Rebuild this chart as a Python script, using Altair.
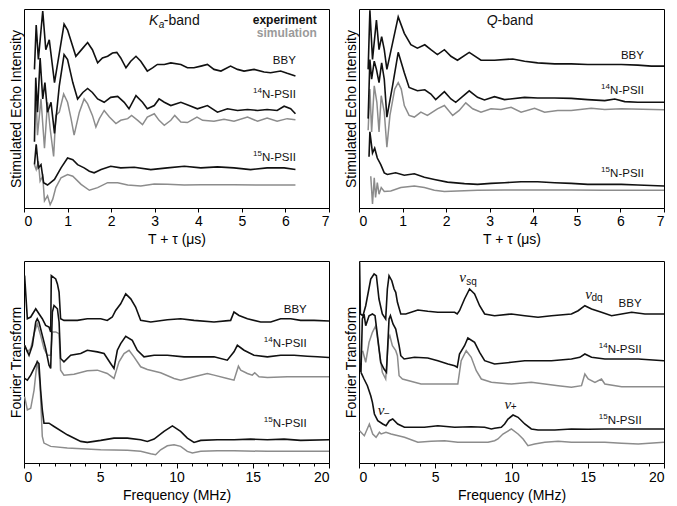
import altair as alt
import pandas as pd

FONT = "Liberation Sans"
BLACK = "#111111"
GRAY = "#8c8c8c"

# ---------------- Ka-band time domain (T + tau, us) ----------------
ka_bby_t = [0.24,0.28,0.33,0.43,0.50,0.58,0.70,0.92,1.00,1.19,1.35,1.46,1.57,1.69,1.80,1.92,2.03,2.13,2.22,2.34,2.45,2.57,2.68,2.83,2.95,3.06,3.22,3.37,3.60,3.75,3.90,4.06,4.21,4.36,4.52,4.74,4.90,5.05,5.28,5.51,5.66,5.89,6.04,6.23]
ka_bby_y = [140.7,185.7,150.7,200,160.7,170.7,127.3,186.7,180.7,154,162.3,168,160.7,147.3,152.3,154,157.3,158,152.3,142.3,149,154,149,139,142.3,145.7,145.7,147.3,145.7,142.3,142.3,144,145.7,140.7,139,144,140.7,139,140.7,138,137.3,139,136.7,134]
ka_n14_t = [0.24,0.27,0.31,0.37,0.43,0.48,0.54,0.62,0.70,0.81,0.92,1.00,1.12,1.23,1.35,1.46,1.57,1.69,1.84,1.99,2.15,2.30,2.41,2.57,2.72,2.83,2.99,3.10,3.22,3.37,3.60,3.79,3.98,4.21,4.44,4.67,4.90,5.13,5.36,5.58,5.81,5.97,6.12,6.23]
ka_n14_y = [67.3,132.3,97.3,152.3,110.7,127.3,97.3,107.3,75.7,124,155.7,150.7,127.3,110.7,117.3,121.3,117.3,110.7,107.3,112.3,113.3,107.3,100.7,114,107.3,100.7,104,110.7,107.3,104,107.3,104,100.7,104,97.3,100.7,99,100,99,100,99,103.3,100.7,95.7]
ka_n14s_t = [0.28,0.31,0.39,0.47,0.54,0.60,0.68,0.73,0.81,0.91,1.00,1.08,1.15,1.27,1.38,1.46,1.57,1.65,1.73,1.84,1.96,2.11,2.22,2.38,2.47,2.61,2.72,2.83,2.99,3.10,3.22,3.37,3.46,3.60,3.75,3.97,4.10,4.36,4.59,4.82,5.13,5.36,5.58,5.81,6.04,6.23]
ka_n14s_y = [107.3,74,110.7,60.7,107.3,80.7,52.3,94,97.3,115.7,107.3,90.7,74,97.3,110.7,105.7,94,82.3,90.7,99,92.3,85.7,89,90.7,94,89,84.7,92.3,95.7,89,84,89,94,87.3,86.7,92.3,89,88,90,88,92.3,88,91.3,88,90.7,89.7]
ka_n15_t = [0.24,0.28,0.33,0.39,0.45,0.54,0.70,0.85,1.00,1.12,1.23,1.38,1.50,1.61,1.77,1.99,2.22,2.53,2.91,3.29,3.68,4.06,4.44,4.82,5.20,5.58,5.97,6.23]
ka_n15_y = [44,64.7,40.7,44,25.7,23.3,29,40.7,50.7,49,44,40.7,37.3,35.7,39,42.3,40.7,41.3,39,40.7,42.3,40.7,41.7,40.7,39,40.7,40.7,39]
ka_n15s_t = [0.24,0.28,0.33,0.37,0.43,0.47,0.54,0.60,0.66,0.73,0.85,1.00,1.12,1.31,1.50,1.69,1.92,2.15,2.38,2.68,2.99,3.29,3.68,4.06,4.82,5.58,6.23]
ka_n15s_y = [44,39,47.3,27.3,32.3,7.3,12.3,3.3,9,20.7,30.7,34,32.3,24,18,20.7,25.7,25.7,23.3,22.3,24.3,24,23.3,23.7,23.7,23.3,23.3]

# ---------------- Q-band time domain ----------------
q_bby_t = [0.21,0.25,0.31,0.40,0.46,0.52,0.58,0.64,0.77,0.90,1.04,1.19,1.34,1.51,1.65,1.80,1.96,2.11,2.26,2.53,2.80,3.11,3.53,3.80,4.10,4.49,4.87,5.25,5.64,6.02,6.40,6.71,7.0]
q_bby_y = [140.7,200.7,150.7,190.7,160.7,174,160.7,140.7,167.3,194,177.3,165.7,162.3,165.7,160.7,155.7,160.7,154,150,158,150,150,151.3,149,147.3,146.3,146.3,145.7,145.7,145.7,145,144,144]
q_n14_t = [0.21,0.25,0.29,0.35,0.40,0.46,0.52,0.58,0.64,0.77,0.90,1.04,1.15,1.34,1.51,1.65,1.76,1.96,2.11,2.22,2.53,2.72,2.88,3.11,3.34,3.80,4.10,4.49,4.87,5.25,5.64,5.87,6.10,6.40,7.0]
q_n14_y = [90.7,150.7,130.7,149,140.7,127.3,147.3,130.7,92.3,124,158,137.3,122.3,119,120,115.7,110,118,110.7,107.3,119,112.3,109.7,113,110,112.3,111.7,111.7,111.3,110,109,110.7,108,107.3,107.3]
q_n14s_t = [0.21,0.25,0.29,0.35,0.41,0.46,0.51,0.58,0.64,0.71,0.82,0.90,0.97,1.04,1.15,1.27,1.42,1.57,1.80,1.96,2.15,2.30,2.45,2.61,2.80,3.03,3.26,3.49,3.72,4.03,4.26,4.56,4.87,5.33,5.64,6.02,7.0]
q_n14s_y = [79,120.7,77.3,124,107.3,77.3,114,97.3,61.7,94,120.7,127.3,120.7,104,94,92.3,97.3,94,100.7,104,94,99,106.7,100.7,97.3,100.7,100,102.3,97.3,101.3,97.3,99,99,101.3,100,100.7,99.7]
q_n15_t = [0.23,0.25,0.31,0.36,0.42,0.50,0.58,0.65,0.84,1.04,1.27,1.50,1.73,2.03,2.42,2.72,3.03,3.34,3.72,4.10,4.49,4.87,5.25,5.64,6.02,6.40,7.0]
q_n15_y = [52,77.3,55.7,60.7,50.7,44,35.7,34,35.7,33.3,34.7,31.3,29,26.3,24.7,24,25,25.7,26.7,26.7,25.7,25,24,24,24,23.3,22.3]
q_n15s_t = [0.27,0.31,0.35,0.38,0.42,0.46,0.51,0.58,0.73,0.96,1.27,1.50,1.73,1.96,2.26,2.72,3.34,4.10,4.87,5.64,7.0]
q_n15s_y = [32.3,4,30.7,10.7,25.7,14,20.7,16.7,17.3,20.7,22.3,20.7,18,16.7,17.3,18,18.3,18.3,18.3,18,18]

# ---------------- Ka-band Fourier transform (MHz) ----------------
kf_bby_f = [0.04,0.22,0.44,0.77,0.98,1.20,1.42,1.64,1.75,1.79,2.08,2.19,2.30,2.40,2.62,3.50,4.15,5.03,5.46,5.79,6.01,6.34,6.67,7.00,7.32,7.65,8.31,9.40,10.27,11.15,12.46,13.55,13.77,14.10,14.65,15.52,16.18,16.83,17.49,18.14,19.02,20.0]
kf_bby_y = [188.3,145,146.7,155,150,145,138.3,136.7,131.7,188.3,185,180,171.7,145,143.3,143.3,145,145,143.3,146.7,153.3,160,170,165,156.7,143.3,141.7,144,145,143.3,141.7,143.3,151.7,148.3,145,141.7,141.7,145,145,143.3,143.3,142.7]
kf_n14_f = [0.04,0.33,0.55,0.77,0.87,0.98,1.20,1.42,1.64,1.75,1.86,1.97,2.19,2.30,2.40,2.62,3.06,3.72,4.15,4.81,5.25,5.68,5.90,6.12,6.34,6.67,7.10,7.43,7.87,8.53,9.40,10.49,11.59,12.46,13.33,13.77,13.99,14.43,15.08,15.96,16.83,17.71,18.58,19.24,20.0]
kf_n14_y = [118.3,108.3,118.3,141.7,145,141.7,128.3,115,98.3,95,151.7,158.3,155,141.7,105,101.7,108.3,110,113.3,111.7,110,100,95,113.3,120,127.3,123.3,113.3,106.7,108.3,108.3,106.7,106.7,106.7,103.3,111.7,118.3,113.3,108.3,106.7,108.3,108.3,107.3,106.7,106]
kf_n14s_f = [0.04,0.22,0.44,0.66,0.87,1.09,1.31,1.53,1.75,1.86,2.08,2.30,2.40,2.62,3.28,4.15,4.81,5.46,5.90,6.23,6.56,6.89,7.21,7.65,8.09,8.96,9.84,10.27,11.15,12.02,12.46,13.33,13.77,14.06,14.21,14.65,14.97,15.13,15.41,15.96,17.27,18.58,20.0]
kf_n14s_y = [118.3,111.7,115,130,140,128.3,115,108.3,108.3,131.7,131.7,130,93.3,88.3,89.3,92.7,93.3,90,85,101.7,110,113.3,106.7,96.7,94,90.7,85,83.3,86.7,90,88.3,85,83.3,97.3,93.3,90,88.3,90.7,86.7,86,86.7,86.7,86.7]
kf_n15_f = [0.04,0.22,0.44,0.66,0.87,0.98,1.09,1.20,1.31,1.64,1.97,2.84,3.72,4.15,5.03,5.90,6.78,7.65,8.09,8.53,9.18,9.73,10.27,10.71,11.15,11.59,12.68,13.77,14.86,15.96,17.05,18.14,20.0]
kf_n15_y = [85,83.3,88.3,95,101.7,100,73.3,53.3,40,40,36.7,28.3,21.7,20.7,22.7,25,25,23.3,21.7,24,31.7,37.3,31.7,25,20.7,22.7,23.3,23.3,24,23.3,24,22.7,23.3]
kf_n15s_f = [0.04,0.22,0.44,0.66,0.87,1.05,1.20,1.31,1.75,2.84,5.03,6.78,7.65,8.31,8.63,8.96,9.40,9.84,10.27,10.71,11.04,11.59,12.68,13.77,15.96,18.14,20.0]
kf_n15s_y = [66.7,53.3,55,73.3,103.3,80,26.7,20,16.7,15,13.3,12.7,11.7,9.3,8.3,13.3,17.3,18.3,16.7,11.7,10,11.7,12.3,12.3,11.7,11.7,11.7]

# ---------------- Q-band Fourier transform ----------------
qf_bby_f = [0.04,0.09,0.26,0.44,0.77,0.99,1.14,1.31,1.53,1.75,1.86,1.97,2.15,2.30,2.41,2.52,2.74,3.07,3.86,4.51,5.17,5.83,6.27,6.44,6.59,6.92,7.25,7.58,7.91,8.24,8.89,9.99,10.87,11.74,12.62,13.93,14.37,14.81,15.25,15.90,16.56,17.22,17.88,18.75,20.0]
qf_bby_y = [200.7,149,147.3,157.3,184,189,187.3,164,149,144,174,187.3,182.3,174,170.7,160.7,149,149,153,151.7,150.7,150.7,150.7,149,152.3,164,174,169,157.3,149,147.3,149,147.3,145.7,147.3,149,152.3,157.3,154,150.7,147.3,149,150.7,149,149]
qf_n14_f = [0.02,0.04,0.13,0.22,0.33,0.44,0.66,0.88,1.05,1.21,1.42,1.64,1.80,1.97,2.06,2.23,2.41,2.63,2.74,2.96,3.64,4.51,5.17,5.83,6.27,6.44,6.59,6.92,7.14,7.58,7.91,8.24,8.89,9.99,10.87,11.74,12.62,13.93,14.48,14.81,15.25,16.12,17.22,18.31,20.0]
qf_n14_y = [150,99,90.7,144,149,137.3,147.3,149,147.3,127.3,100.7,94,90.7,144,147.3,139,134,117.3,107.3,104,105.7,105,102.3,99,97.3,95.7,109,117.3,125,120.7,110.7,102.3,99,100.7,102.3,102.3,102.3,104,105.7,109,105.7,104,104,104,102.3]
qf_n14s_f = [0.24,0.44,0.66,0.88,1.10,1.31,1.53,1.75,1.93,2.02,2.19,2.41,2.52,2.63,2.85,4.07,5.17,6.48,6.70,7.03,7.36,7.69,8.02,8.68,9.99,11.30,12.18,13.06,13.93,14.59,14.81,15.03,15.47,15.90,16.12,17.22,18.31,20.0]
qf_n14s_y = [112.3,100.7,120.7,130.7,137.3,114,90.7,84,124,127.3,117.3,112.3,107.3,87.3,84,79,79,79,102.3,112.3,105.7,92.3,84,80.7,79,80.7,79,77.3,75.7,77.3,89,84,80.7,84,79,76.3,76.3,76.3]
qf_n15_f = [0.13,0.33,0.55,0.77,0.88,1.01,1.23,1.56,1.77,1.99,2.21,2.54,2.98,3.42,4.29,5.17,6.27,7.36,8.24,8.68,8.89,9.33,9.55,9.77,10.10,10.43,10.87,11.30,11.74,12.84,13.93,15.03,16.12,17.22,18.31,20.0]
qf_n15_y = [90.7,84,77.3,67.3,60.7,49,42.3,39,37.3,42.3,44,39,35.7,35.7,35.7,37.3,35.7,36.3,35.7,34,34.7,35.7,39,44,48,45.7,39,34,33,33,34,33.7,34,34,34,34]
qf_n15s_f = [0.04,0.24,0.35,0.68,0.90,1.12,1.34,1.45,1.77,2.10,2.98,3.86,4.73,5.61,6.48,7.36,8.46,8.89,9.11,9.44,9.99,10.43,10.76,11.08,11.52,12.18,13.06,13.93,15.03,16.12,17.22,18.31,20.0]
qf_n15s_y = [32.3,29,27.3,39,29,25.7,30.7,29,30.7,29,25.7,20.7,21.7,22.3,20.7,20.7,20.7,22.3,24,29,34,29,24,17.3,19,20.7,21.7,20.7,20.7,20.7,19.7,19,20.7]

time_ticks = [0, 1, 2, 3, 4, 5, 6, 7]
freq_ticks = list(range(0, 21))


def traces_df(items):
    rows = []
    for name, kind, xs, ys in items:
        for x, y in zip(xs, ys, strict=True):
            rows.append({"x": x, "y": y, "trace": name, "kind": kind})
    return pd.DataFrame(rows)


def panel(items, labels, xdom, ydom, xtitle, ytitle, width, height, freq):
    xscale = alt.Scale(domain=xdom, nice=False, zero=False)
    yscale = alt.Scale(domain=ydom, nice=False, zero=False)
    common = dict(title=xtitle, grid=False, labelFont=FONT, labelFontSize=14,
                  titleFont=FONT, titleFontSize=14, titleFontWeight="normal",
                  labelColor="#000000", titleColor="#000000", tickColor="#000000",
                  domainColor="#000000", labelPadding=2, titlePadding=4)
    if freq:
        xaxis = alt.Axis(values=freq_ticks,
                         labelExpr="datum.value % 5 === 0 ? datum.label : ''",
                         tickSize={"condition": {"test": "datum.value % 5 === 0", "value": 5}, "value": 3},
                         **common)
    else:
        xaxis = alt.Axis(values=time_ticks, tickSize=4, **common)
    yaxis = alt.Axis(title=ytitle, labels=False, ticks=False, domain=False, grid=False,
                     titlePadding=1, titleFont=FONT, titleFontSize=14,
                     titleFontWeight="normal", titleColor="#000000")
    X = alt.X("x:Q", scale=xscale, axis=xaxis)
    Y = alt.Y("y:Q", scale=yscale, axis=yaxis)
    df = traces_df(items)
    base = alt.Chart(df).encode(x=X, y=Y, detail="trace:N")
    layers = [
        base.transform_filter(alt.datum.kind == "sim").mark_line(color=GRAY, strokeWidth=1.5, clip=True),
        base.transform_filter(alt.datum.kind == "exp").mark_line(color=BLACK, strokeWidth=1.6, clip=True),
    ]
    for lab in labels:
        x, y, txt = lab["x"], lab["y"], lab["text"]
        ldf = pd.DataFrame({"x": [x], "y": [y], "t": [txt]})
        mk = dict(align=lab.get("align", "left"), baseline="middle",
                  fontSize=lab.get("size", 11.5), font=lab.get("font", FONT),
                  fontStyle=lab.get("style", "normal"), fontWeight=lab.get("weight", "normal"),
                  color=lab.get("color", BLACK))
        if "dx" in lab:
            mk["dx"] = lab["dx"]
        layers.append(alt.Chart(ldf).mark_text(**mk).encode(x=X, y=Y, text="t:N"))
    return alt.layer(*layers).properties(width=width, height=height)


def nlabel(x, y, mass, align_dx=-34):
    return [
        {"x": x, "y": y, "text": "N-PSII", "align": "right"},
        {"x": x, "y": y + 4, "text": mass, "align": "right", "size": 8, "dx": align_dx},
    ]


ka_labels = [
    {"x": 2.87, "y": 190, "text": "K", "size": 14, "style": "italic"},
    {"x": 3.09, "y": 185.5, "text": "a", "size": 10, "style": "italic"},
    {"x": 3.21, "y": 190, "text": "-band", "size": 14},
    {"x": 6.72, "y": 191, "text": "experiment", "align": "right", "size": 12, "weight": "bold"},
    {"x": 6.72, "y": 178, "text": "simulation", "align": "right", "size": 12, "weight": "bold", "color": "#9a9a9a"},
    {"x": 6.24, "y": 149, "text": "BBY", "align": "right"},
] + nlabel(6.24, 115, "14") + nlabel(6.24, 51, "15")

q_labels = [
    {"x": 2.93, "y": 190, "text": "Q", "size": 14, "style": "italic"},
    {"x": 3.18, "y": 190, "text": "-band", "size": 14},
    {"x": 6.54, "y": 154, "text": "BBY", "align": "right"},
] + nlabel(6.54, 119, "14") + nlabel(6.54, 35, "15")

kf_labels = [
    {"x": 18.54, "y": 154, "text": "BBY", "align": "right"},
] + nlabel(18.54, 120, "14") + nlabel(18.54, 39, "15")

SERIF = "Liberation Serif"
qf_labels = [
    {"x": 18.53, "y": 159, "text": "BBY", "align": "right"},
    {"x": 6.58, "y": 185.6, "text": "ν", "size": 15, "style": "italic", "font": SERIF},
    {"x": 7.04, "y": 181, "text": "sq", "size": 10},
    {"x": 14.83, "y": 169, "text": "ν", "size": 15, "style": "italic", "font": SERIF},
    {"x": 15.24, "y": 164.6, "text": "dq", "size": 10},
    {"x": 1.23, "y": 53, "text": "ν", "size": 15, "style": "italic", "font": SERIF},
    {"x": 1.64, "y": 49, "text": "−", "size": 10},
    {"x": 9.54, "y": 59, "text": "ν", "size": 15, "style": "italic", "font": SERIF},
    {"x": 9.95, "y": 55.6, "text": "+", "size": 10},
] + nlabel(18.53, 113, "14") + nlabel(18.53, 42.3, "15")

W = 305
TIME_TITLE = "T + τ (μs)"
FREQ_TITLE = "Frequency (MHz)"

ka = panel([
    ("bby", "exp", ka_bby_t, ka_bby_y),
    ("n14s", "sim", ka_n14s_t, ka_n14s_y),
    ("n14", "exp", ka_n14_t, ka_n14_y),
    ("n15s", "sim", ka_n15s_t, ka_n15s_y),
    ("n15", "exp", ka_n15_t, ka_n15_y),
], ka_labels, [0, 7], [0, 202], TIME_TITLE, "Stimulated Echo Intensity", W, 199, False)

q = panel([
    ("bby", "exp", q_bby_t, q_bby_y),
    ("n14s", "sim", q_n14s_t, q_n14s_y),
    ("n14", "exp", q_n14_t, q_n14_y),
    ("n15s", "sim", q_n15s_t, q_n15s_y),
    ("n15", "exp", q_n15_t, q_n15_y),
], q_labels, [0, 7], [0, 202], TIME_TITLE, "Stimulated Echo Intensity", W, 199, False)

kf = panel([
    ("bby", "exp", kf_bby_f, kf_bby_y),
    ("n14s", "sim", kf_n14s_f, kf_n14s_y),
    ("n14", "exp", kf_n14_f, kf_n14_y),
    ("n15s", "sim", kf_n15s_f, kf_n15s_y),
    ("n15", "exp", kf_n15_f, kf_n15_y),
], kf_labels, [0, 20], [0, 203], FREQ_TITLE, "Fourier Transform", W, 202, True)

qf = panel([
    ("bby", "exp", qf_bby_f, qf_bby_y),
    ("n14s", "sim", qf_n14s_f, qf_n14s_y),
    ("n14", "exp", qf_n14_f, qf_n14_y),
    ("n15s", "sim", qf_n15s_f, qf_n15s_y),
    ("n15", "exp", qf_n15_f, qf_n15_y),
], qf_labels, [0, 20], [0, 202], FREQ_TITLE, "Fourier Transform", W, 202, True)

chart = alt.concat(
    ka, q, kf, qf, columns=2,
    spacing={"row": 13, "column": 13},
).properties(
    padding={"left": 0, "top": 0, "right": 0, "bottom": 0},
    background="white",
).configure_view(
    stroke="#000000", strokeWidth=1
)

chart.save("out.html", embed_options={"renderer": "svg", "actions": False})
